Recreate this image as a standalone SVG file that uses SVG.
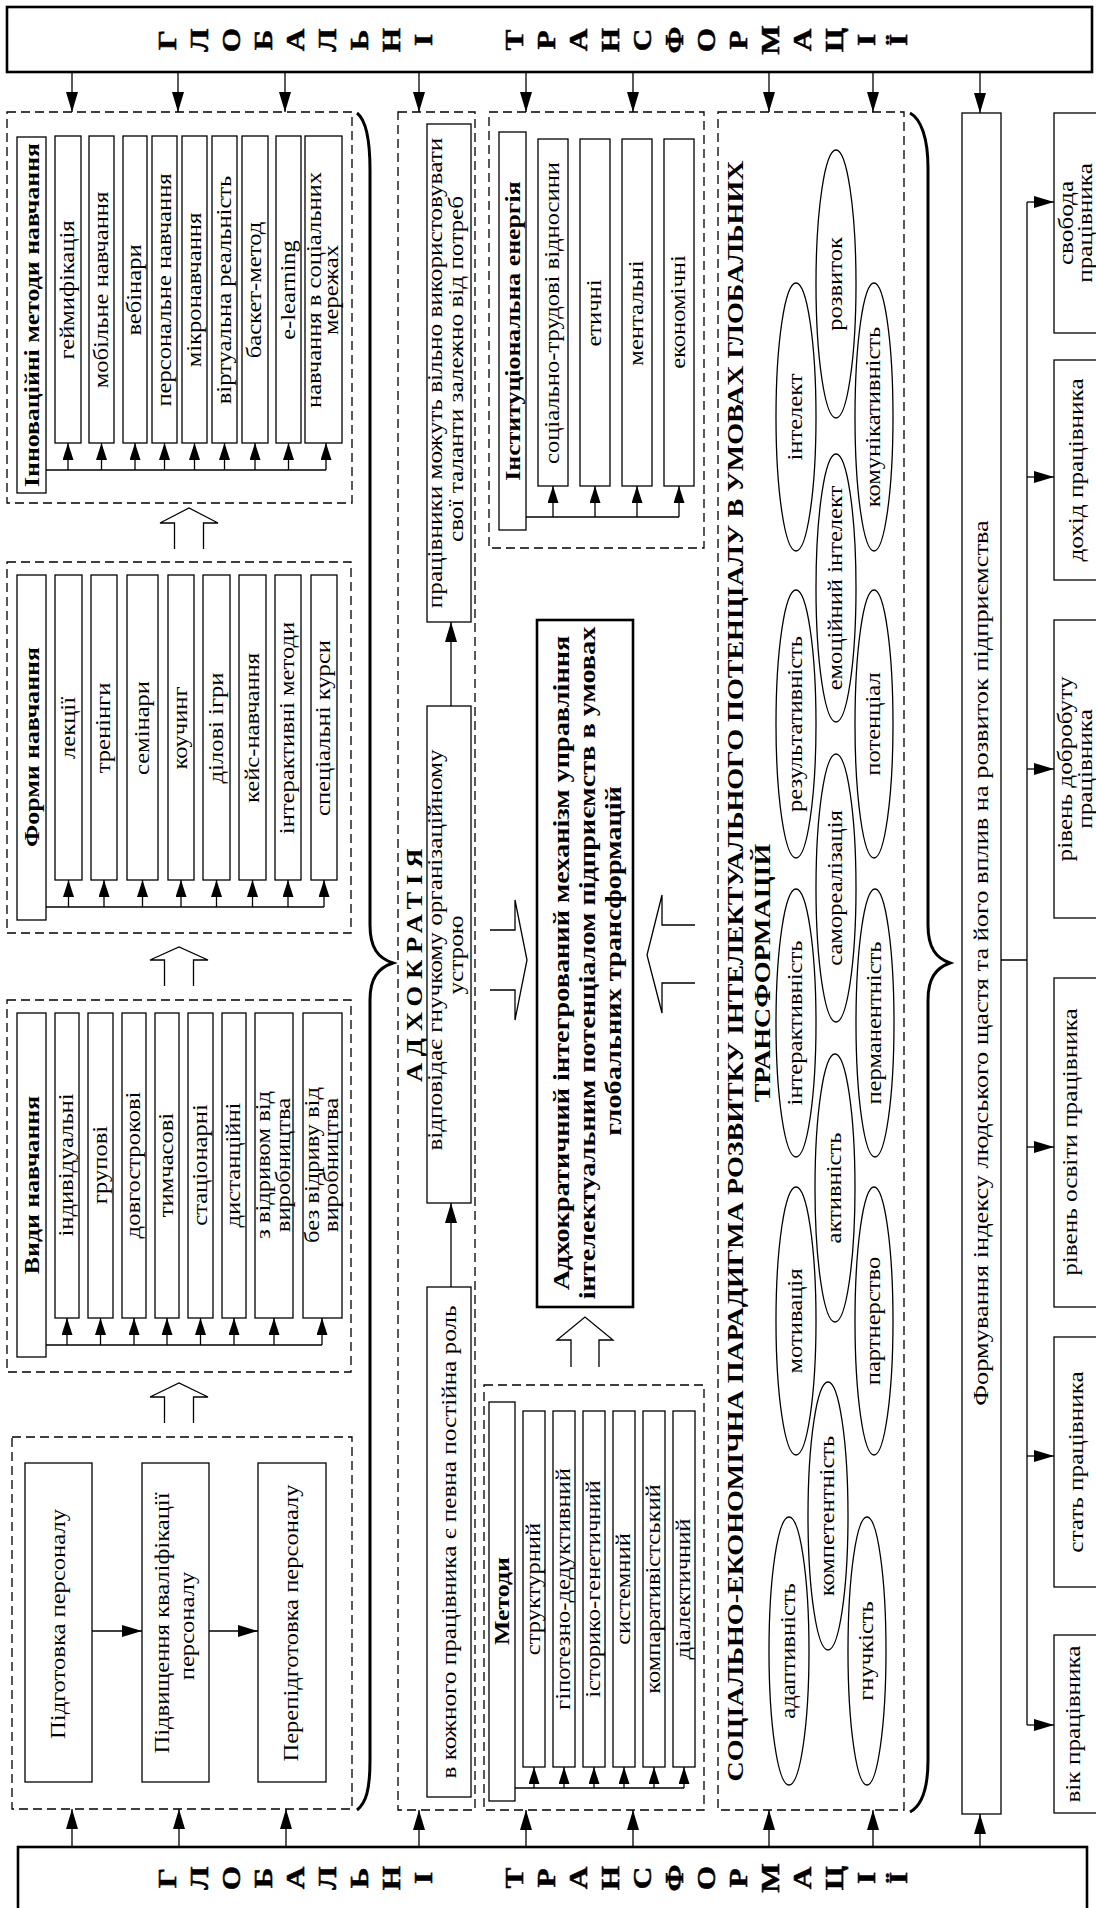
<svg xmlns="http://www.w3.org/2000/svg" width="1096" height="1908" viewBox="0 0 1096 1908">
<style>
text{font-family:"Liberation Serif","Times New Roman",serif;fill:#000;text-anchor:middle}
.r{font-size:20px}
.m{font-size:21px}
.f{font-size:22px}
.h{font-size:21px;font-weight:bold}
.c{font-size:23px;font-weight:bold}
.L{font-size:25px;font-weight:bold;stroke:#000;stroke-width:0.5}
.bx{fill:#fff;stroke:#000;stroke-width:1.3}
.bb{fill:#fff;stroke:#000;stroke-width:2.6}
.dsh{fill:none;stroke:#000;stroke-width:1.3;stroke-dasharray:9 5}
.ln{fill:none;stroke:#000;stroke-width:1.3}
.el{fill:none;stroke:#000;stroke-width:1.3}
.br{fill:none;stroke:#000;stroke-width:3}
.ha{fill:#fff;stroke:#000;stroke-width:1.3}
</style>
<defs>
<marker id="a" viewBox="0 0 20 12" refX="20" refY="6" markerWidth="20" markerHeight="12" markerUnits="userSpaceOnUse" orient="auto"><path d="M0,0L20,6L0,12z"/></marker>
<marker id="s" viewBox="0 0 17 11" refX="17" refY="5.5" markerWidth="17" markerHeight="11" markerUnits="userSpaceOnUse" orient="auto"><path d="M0,0L17,5.5L0,11z"/></marker>
</defs>
<rect width="1096" height="1908" fill="#fff"/>

<g id="top-box">
<rect class="bb" x="7" y="7" width="1085" height="65"/>
<text class="L" transform="translate(167,40) rotate(-90) scale(1.25,1)" y="8.5">Г</text>
<text class="L" transform="translate(199,40) rotate(-90) scale(1.25,1)" y="8.5">Л</text>
<text class="L" transform="translate(231,40) rotate(-90) scale(1.25,1)" y="8.5">О</text>
<text class="L" transform="translate(263,40) rotate(-90) scale(1.25,1)" y="8.5">Б</text>
<text class="L" transform="translate(295,40) rotate(-90) scale(1.25,1)" y="8.5">А</text>
<text class="L" transform="translate(327,40) rotate(-90) scale(1.25,1)" y="8.5">Л</text>
<text class="L" transform="translate(359,40) rotate(-90) scale(1.25,1)" y="8.5">Ь</text>
<text class="L" transform="translate(391,40) rotate(-90) scale(1.25,1)" y="8.5">Н</text>
<text class="L" transform="translate(423,40) rotate(-90) scale(1.25,1)" y="8.5">І</text>
<text class="L" transform="translate(514,40) rotate(-90) scale(1.25,1)" y="8.5">Т</text>
<text class="L" transform="translate(546,40) rotate(-90) scale(1.25,1)" y="8.5">Р</text>
<text class="L" transform="translate(578,40) rotate(-90) scale(1.25,1)" y="8.5">А</text>
<text class="L" transform="translate(610,40) rotate(-90) scale(1.25,1)" y="8.5">Н</text>
<text class="L" transform="translate(642,40) rotate(-90) scale(1.25,1)" y="8.5">С</text>
<text class="L" transform="translate(674,40) rotate(-90) scale(1.25,1)" y="8.5">Ф</text>
<text class="L" transform="translate(706,40) rotate(-90) scale(1.25,1)" y="8.5">О</text>
<text class="L" transform="translate(738,40) rotate(-90) scale(1.25,1)" y="8.5">Р</text>
<text class="L" transform="translate(770,40) rotate(-90) scale(1.25,1)" y="8.5">М</text>
<text class="L" transform="translate(802,40) rotate(-90) scale(1.25,1)" y="8.5">А</text>
<text class="L" transform="translate(834,40) rotate(-90) scale(1.25,1)" y="8.5">Ц</text>
<text class="L" transform="translate(866,40) rotate(-90) scale(1.25,1)" y="8.5">І</text>
<text class="L" transform="translate(898,40) rotate(-90) scale(1.25,1)" y="8.5">Ї</text>
</g>

<g id="bottom-box">
<rect class="bb" x="18" y="1847" width="1069" height="80"/>
<text class="L" transform="translate(167,1878) rotate(-90) scale(1.25,1)" y="8.5">Г</text>
<text class="L" transform="translate(199,1878) rotate(-90) scale(1.25,1)" y="8.5">Л</text>
<text class="L" transform="translate(231,1878) rotate(-90) scale(1.25,1)" y="8.5">О</text>
<text class="L" transform="translate(263,1878) rotate(-90) scale(1.25,1)" y="8.5">Б</text>
<text class="L" transform="translate(295,1878) rotate(-90) scale(1.25,1)" y="8.5">А</text>
<text class="L" transform="translate(327,1878) rotate(-90) scale(1.25,1)" y="8.5">Л</text>
<text class="L" transform="translate(359,1878) rotate(-90) scale(1.25,1)" y="8.5">Ь</text>
<text class="L" transform="translate(391,1878) rotate(-90) scale(1.25,1)" y="8.5">Н</text>
<text class="L" transform="translate(423,1878) rotate(-90) scale(1.25,1)" y="8.5">І</text>
<text class="L" transform="translate(514,1878) rotate(-90) scale(1.25,1)" y="8.5">Т</text>
<text class="L" transform="translate(546,1878) rotate(-90) scale(1.25,1)" y="8.5">Р</text>
<text class="L" transform="translate(578,1878) rotate(-90) scale(1.25,1)" y="8.5">А</text>
<text class="L" transform="translate(610,1878) rotate(-90) scale(1.25,1)" y="8.5">Н</text>
<text class="L" transform="translate(642,1878) rotate(-90) scale(1.25,1)" y="8.5">С</text>
<text class="L" transform="translate(674,1878) rotate(-90) scale(1.25,1)" y="8.5">Ф</text>
<text class="L" transform="translate(706,1878) rotate(-90) scale(1.25,1)" y="8.5">О</text>
<text class="L" transform="translate(738,1878) rotate(-90) scale(1.25,1)" y="8.5">Р</text>
<text class="L" transform="translate(770,1878) rotate(-90) scale(1.25,1)" y="8.5">М</text>
<text class="L" transform="translate(802,1878) rotate(-90) scale(1.25,1)" y="8.5">А</text>
<text class="L" transform="translate(834,1878) rotate(-90) scale(1.25,1)" y="8.5">Ц</text>
<text class="L" transform="translate(866,1878) rotate(-90) scale(1.25,1)" y="8.5">І</text>
<text class="L" transform="translate(898,1878) rotate(-90) scale(1.25,1)" y="8.5">Ї</text>
</g>

<g id="innovative-methods">
<rect class="dsh" x="7" y="112" width="345" height="391"/>
<rect class="bx" x="17" y="137" width="29" height="356"/>
<text class="h" transform="translate(38.5,315) rotate(-90) scale(1.23,1)">Інноваційні методи навчання</text>
<rect class="bx" x="55" y="136" width="26" height="307"/>
<rect class="bx" x="89" y="136" width="25" height="307"/>
<rect class="bx" x="123" y="136" width="24" height="307"/>
<rect class="bx" x="152" y="136" width="25" height="307"/>
<rect class="bx" x="182" y="136" width="25" height="307"/>
<rect class="bx" x="212" y="136" width="25" height="307"/>
<rect class="bx" x="242" y="136" width="26" height="307"/>
<rect class="bx" x="276" y="136" width="25" height="307"/>
<rect class="bx" x="305" y="136" width="37" height="307"/>
<text class="r" transform="translate(74,290) rotate(-90) scale(1.23,1)">геймифікація</text>
<text class="r" transform="translate(107.5,290) rotate(-90) scale(1.23,1)">мобільне навчання</text>
<text class="r" transform="translate(141,290) rotate(-90) scale(1.23,1)">вебінари</text>
<text class="r" transform="translate(170.5,290) rotate(-90) scale(1.23,1)">персональне навчання</text>
<text class="r" transform="translate(200.5,290) rotate(-90) scale(1.23,1)">мікронавчання</text>
<text class="r" transform="translate(230.5,290) rotate(-90) scale(1.23,1)">віртуальна реальність</text>
<text class="r" transform="translate(261,290) rotate(-90) scale(1.23,1)">баскет-метод</text>
<text class="r" transform="translate(294.5,290) rotate(-90) scale(1.23,1)">e-learning</text>
<text class="r" transform="translate(321,290) rotate(-90) scale(1.23,1)">навчання в соціальних</text>
<text class="r" transform="translate(338,290) rotate(-90) scale(1.23,1)">мережах</text>
</g>

<g id="forms">
<rect class="dsh" x="7" y="562" width="344" height="371"/>
<rect class="bx" x="17" y="575" width="29" height="345"/>
<text class="h" transform="translate(38.5,747) rotate(-90) scale(1.23,1)">Форми навчання</text>
<rect class="bx" x="55" y="575" width="27" height="305"/>
<rect class="bx" x="91" y="575" width="26" height="305"/>
<rect class="bx" x="127" y="575" width="31" height="305"/>
<rect class="bx" x="168" y="575" width="26" height="305"/>
<rect class="bx" x="203" y="575" width="27" height="305"/>
<rect class="bx" x="239" y="575" width="27" height="305"/>
<rect class="bx" x="275" y="575" width="26" height="305"/>
<rect class="bx" x="311" y="575" width="26" height="305"/>
<text class="r" transform="translate(74.5,728) rotate(-90) scale(1.23,1)">лекції</text>
<text class="r" transform="translate(110,728) rotate(-90) scale(1.23,1)">тренінги</text>
<text class="r" transform="translate(148.5,728) rotate(-90) scale(1.23,1)">семінари</text>
<text class="r" transform="translate(187,728) rotate(-90) scale(1.23,1)">коучинг</text>
<text class="r" transform="translate(222.5,728) rotate(-90) scale(1.23,1)">ділові ігри</text>
<text class="r" transform="translate(258.5,728) rotate(-90) scale(1.23,1)">кейс-навчання</text>
<text class="r" transform="translate(294,728) rotate(-90) scale(1.23,1)">інтерактивні методи</text>
<text class="r" transform="translate(330,728) rotate(-90) scale(1.23,1)">спеціальні курси</text>
</g>

<g id="types">
<rect class="dsh" x="7" y="1000" width="344" height="372"/>
<rect class="bx" x="17" y="1013" width="29" height="344"/>
<text class="h" transform="translate(38.5,1185) rotate(-90) scale(1.23,1)">Види навчання</text>
<rect class="bx" x="55" y="1013" width="24" height="305"/>
<rect class="bx" x="88" y="1013" width="25" height="305"/>
<rect class="bx" x="122" y="1013" width="24" height="305"/>
<rect class="bx" x="155" y="1013" width="24" height="305"/>
<rect class="bx" x="188" y="1013" width="25" height="305"/>
<rect class="bx" x="222" y="1013" width="24" height="305"/>
<rect class="bx" x="255" y="1013" width="38" height="305"/>
<rect class="bx" x="303" y="1013" width="39" height="305"/>
<text class="r" transform="translate(73,1165) rotate(-90) scale(1.23,1)">індивідуальні</text>
<text class="r" transform="translate(106.5,1165) rotate(-90) scale(1.23,1)">групові</text>
<text class="r" transform="translate(140,1165) rotate(-90) scale(1.23,1)">довгострокові</text>
<text class="r" transform="translate(173,1165) rotate(-90) scale(1.23,1)">тимчасові</text>
<text class="r" transform="translate(206.5,1165) rotate(-90) scale(1.23,1)">стаціонарні</text>
<text class="r" transform="translate(240,1165) rotate(-90) scale(1.23,1)">дистанційні</text>
<text class="r" transform="translate(270,1165) rotate(-90) scale(1.23,1)">з відривом від</text>
<text class="r" transform="translate(290,1165) rotate(-90) scale(1.23,1)">виробництва</text>
<text class="r" transform="translate(319,1165) rotate(-90) scale(1.23,1)">без відриву від</text>
<text class="r" transform="translate(338,1165) rotate(-90) scale(1.23,1)">виробництва</text>
</g>

<g id="training">
<rect class="dsh" x="12" y="1437" width="340" height="372"/>
<rect class="bx" x="25" y="1463" width="67" height="319"/>
<rect class="bx" x="142" y="1463" width="67" height="319"/>
<rect class="bx" x="258" y="1463" width="68" height="319"/>
<text class="r" transform="translate(65,1624) rotate(-90) scale(1.23,1)">Підготовка персоналу</text>
<text class="r" transform="translate(169,1623) rotate(-90) scale(1.23,1)">Підвищення кваліфікації</text>
<text class="r" transform="translate(194,1626) rotate(-90) scale(1.23,1)">персоналу</text>
<text class="r" transform="translate(298,1623) rotate(-90) scale(1.23,1)">Перепідготовка персоналу</text>
</g>

<g id="adhocracy">
<rect class="dsh" x="398" y="112" width="77" height="1698"/>
<text class="h" style="font-size:23px;letter-spacing:6px" transform="translate(422,962) rotate(-90) scale(1.15,1)">АДХОКРАТІЯ</text>
<rect class="bx" x="427" y="124" width="44" height="498"/>
<text class="m" transform="translate(442,373) rotate(-90) scale(1.2,1)">працівники можуть вільно використовувати</text>
<text class="m" transform="translate(463,369) rotate(-90) scale(1.2,1)">свої таланти залежно від потреб</text>
<rect class="bx" x="427" y="706" width="44" height="497"/>
<text class="m" transform="translate(442,950) rotate(-90) scale(1.2,1)">відповідає гнучкому організаційному</text>
<text class="m" transform="translate(463,955) rotate(-90) scale(1.2,1)">устрою</text>
<rect class="bx" x="427" y="1287" width="44" height="510"/>
<text class="m" transform="translate(456,1542) rotate(-90) scale(1.2,1)">в кожного працівника є певна постійна роль</text>
</g>

<g id="institutional">
<rect class="dsh" x="489" y="112" width="215" height="436"/>
<rect class="bx" x="499" y="132" width="27" height="398"/>
<text class="h" transform="translate(520,331) rotate(-90) scale(1.23,1)">Інституціональна енергія</text>
<rect class="bx" x="538" y="139" width="30" height="347"/>
<rect class="bx" x="580" y="139" width="30" height="347"/>
<rect class="bx" x="622" y="139" width="30" height="347"/>
<rect class="bx" x="664" y="139" width="30" height="347"/>
<text class="r" transform="translate(559,313) rotate(-90) scale(1.23,1)">соціально-трудові відносини</text>
<text class="r" transform="translate(601,313) rotate(-90) scale(1.23,1)">етичні</text>
<text class="r" transform="translate(643,313) rotate(-90) scale(1.23,1)">ментальні</text>
<text class="r" transform="translate(685,312) rotate(-90) scale(1.23,1)">економічні</text>
</g>

<g id="mechanism">
<rect class="bb" x="537" y="620" width="96" height="687"/>
<text class="c" transform="translate(569,963) rotate(-90) scale(1.23,1)">Адхократичний інтегрований механізм управління</text>
<text class="c" transform="translate(595,963) rotate(-90) scale(1.23,1)">інтелектуальним потенціалом підприємств в умовах</text>
<text class="c" transform="translate(621,961) rotate(-90) scale(1.23,1)">глобальних трансформацій</text>
</g>

<g id="methods">
<rect class="dsh" x="484" y="1385" width="220" height="425"/>
<rect class="bx" x="489" y="1402" width="26" height="399"/>
<text class="h" transform="translate(509,1601) rotate(-90) scale(1.23,1)">Методи</text>
<rect class="bx" x="523" y="1411" width="22" height="356"/>
<rect class="bx" x="553" y="1411" width="22" height="356"/>
<rect class="bx" x="583" y="1411" width="22" height="356"/>
<rect class="bx" x="613" y="1411" width="22" height="356"/>
<rect class="bx" x="643" y="1411" width="22" height="356"/>
<rect class="bx" x="673" y="1411" width="22" height="356"/>
<text class="r" transform="translate(540,1589) rotate(-90) scale(1.23,1)">структурний</text>
<text class="r" transform="translate(570,1589) rotate(-90) scale(1.23,1)">гіпотезно-дедуктивний</text>
<text class="r" transform="translate(600,1589) rotate(-90) scale(1.23,1)">історико-генетичний</text>
<text class="r" transform="translate(630,1589) rotate(-90) scale(1.23,1)">системний</text>
<text class="r" transform="translate(660,1589) rotate(-90) scale(1.23,1)">компаративістський</text>
<text class="r" transform="translate(690,1589) rotate(-90) scale(1.23,1)">діалектичний</text>
</g>

<g id="paradigm">
<rect class="dsh" x="718" y="112" width="186" height="1698"/>
<text class="c" transform="translate(743,971) rotate(-90) scale(1.22,1)">СОЦІАЛЬНО-ЕКОНОМІЧНА ПАРАДИГМА РОЗВИТКУ ІНТЕЛЕКТУАЛЬНОГО ПОТЕНЦІАЛУ В УМОВАХ ГЛОБАЛЬНИХ</text>
<text class="c" transform="translate(770,973) rotate(-90) scale(1.22,1)">ТРАНСФОРМАЦІЙ</text>
<ellipse class="el" cx="796" cy="417" rx="20" ry="134"/>
<ellipse class="el" cx="796" cy="724" rx="20" ry="134"/>
<ellipse class="el" cx="796" cy="1023" rx="20" ry="134"/>
<ellipse class="el" cx="796" cy="1321" rx="20" ry="134"/>
<ellipse class="el" cx="789" cy="1651" rx="20" ry="134"/>
<ellipse class="el" cx="836" cy="284" rx="20" ry="134"/>
<ellipse class="el" cx="836" cy="588" rx="20" ry="134"/>
<ellipse class="el" cx="836" cy="888" rx="20" ry="134"/>
<ellipse class="el" cx="835" cy="1188" rx="20" ry="134"/>
<ellipse class="el" cx="828" cy="1516" rx="20" ry="134"/>
<ellipse class="el" cx="874" cy="417" rx="19" ry="134"/>
<ellipse class="el" cx="874" cy="724" rx="19" ry="134"/>
<ellipse class="el" cx="875" cy="1023" rx="19" ry="134"/>
<ellipse class="el" cx="874" cy="1321" rx="19" ry="134"/>
<ellipse class="el" cx="867" cy="1651" rx="19" ry="134"/>
<text class="r" transform="translate(802,417) rotate(-90) scale(1.23,1)">інтелект</text>
<text class="r" transform="translate(802,724) rotate(-90) scale(1.23,1)">результативність</text>
<text class="r" transform="translate(802,1023) rotate(-90) scale(1.23,1)">інтерактивність</text>
<text class="r" transform="translate(802,1321) rotate(-90) scale(1.23,1)">мотивація</text>
<text class="r" transform="translate(795,1651) rotate(-90) scale(1.23,1)">адаптивність</text>
<text class="r" transform="translate(842,284) rotate(-90) scale(1.23,1)">розвиток</text>
<text class="r" transform="translate(842,588) rotate(-90) scale(1.23,1)">емоційний інтелект</text>
<text class="r" transform="translate(842,888) rotate(-90) scale(1.23,1)">самореалізація</text>
<text class="r" transform="translate(841,1188) rotate(-90) scale(1.23,1)">активність</text>
<text class="r" transform="translate(834,1516) rotate(-90) scale(1.23,1)">компетентність</text>
<text class="r" transform="translate(880,417) rotate(-90) scale(1.23,1)">комунікативність</text>
<text class="r" transform="translate(880,724) rotate(-90) scale(1.23,1)">потенціал</text>
<text class="r" transform="translate(881,1023) rotate(-90) scale(1.23,1)">перманентність</text>
<text class="r" transform="translate(880,1321) rotate(-90) scale(1.23,1)">партнерство</text>
<text class="r" transform="translate(873,1651) rotate(-90) scale(1.23,1)">гнучкість</text>
</g>

<g id="happiness-index">
<rect class="bx" x="962" y="113" width="39" height="1701"/>
<text class="f" transform="translate(988,963) rotate(-90) scale(1.2,1)">Формування індексу людського щастя та його вплив на розвиток підприємства</text>
</g>

<g id="factor-freedom">
<rect class="bx" x="1054" y="113" width="50" height="220"/>
<text class="m" transform="translate(1073,223) rotate(-90) scale(1.2,1)">свобода</text>
<text class="m" transform="translate(1092,223) rotate(-90) scale(1.2,1)">працівника</text>
</g>
<g id="factor-income">
<rect class="bx" x="1054" y="360" width="50" height="220"/>
<text class="m" transform="translate(1083,470) rotate(-90) scale(1.2,1)">дохід працівника</text>
</g>
<g id="factor-welfare">
<rect class="bx" x="1054" y="620" width="50" height="298"/>
<text class="m" transform="translate(1072,769) rotate(-90) scale(1.2,1)">рівень добробуту</text>
<text class="m" transform="translate(1092,769) rotate(-90) scale(1.2,1)">працівника</text>
</g>
<g id="factor-education">
<rect class="bx" x="1054" y="978" width="50" height="329"/>
<text class="m" transform="translate(1077,1142) rotate(-90) scale(1.2,1)">рівень освіти працівника</text>
</g>
<g id="factor-gender">
<rect class="bx" x="1054" y="1337" width="50" height="250"/>
<text class="m" transform="translate(1083,1462) rotate(-90) scale(1.2,1)">стать працівника</text>
</g>
<g id="factor-age">
<rect class="bx" x="1054" y="1635" width="50" height="178"/>
<text class="m" transform="translate(1080,1724) rotate(-90) scale(1.2,1)">вік працівника</text>
</g>

<g id="connectors">
<path class="br" d="M357,113 C366,120 370,140 370,170 L370,925 C370,948 378,958 393,963 C378,968 370,978 370,1000 L370,1760 C370,1790 366,1803 357,1810"/>
<path class="br" d="M910,113 C921,119 928,138 928,168 L928,925 C928,948 936,958 950,963 C936,968 928,978 928,1000 L928,1760 C928,1792 921,1806 910,1812"/>
<g class="ln" marker-end="url(#a)">
<path d="M72,72V112"/><path d="M178,72V112"/><path d="M285,72V112"/>
<path d="M419,72V112"/><path d="M526,72V112"/><path d="M633,72V112"/>
<path d="M769,72V112"/><path d="M873,72V112"/><path d="M980,72V113"/>
<path d="M72,1847V1809"/><path d="M179,1847V1809"/><path d="M286,1847V1809"/>
<path d="M419,1847V1810"/><path d="M526,1847V1810"/><path d="M633,1847V1810"/>
<path d="M769,1847V1810"/><path d="M873,1847V1810"/><path d="M980,1847V1814"/>
<path d="M451,1287V1203"/><path d="M451,706V622"/>
<path d="M92,1631H142"/><path d="M209,1631H258"/>
<path d="M1027,202H1054"/><path d="M1027,477H1054"/><path d="M1027,769H1054"/>
<path d="M1027,1147H1054"/><path d="M1027,1456H1054"/><path d="M1027,1725H1054"/>
</g>
<path class="ln" d="M1001,960H1027M1027,202V1725"/>
<path class="ln" d="M46,470H326"/>
<g class="ln" marker-end="url(#s)">
<path d="M68,470V443"/><path d="M101.5,470V443"/><path d="M135,470V443"/><path d="M164.5,470V443"/><path d="M194.5,470V443"/><path d="M224.5,470V443"/><path d="M255,470V443"/><path d="M288.5,470V443"/><path d="M326,470V443"/>
</g>
<path class="ln" d="M46,907H324"/>
<g class="ln" marker-end="url(#s)">
<path d="M68.5,907V880"/><path d="M104,907V880"/><path d="M142.5,907V880"/><path d="M181,907V880"/><path d="M216.5,907V880"/><path d="M252.5,907V880"/><path d="M288,907V880"/><path d="M324,907V880"/>
</g>
<path class="ln" d="M46,1345H322"/>
<g class="ln" marker-end="url(#s)">
<path d="M67,1345V1318"/><path d="M100.5,1345V1318"/><path d="M134,1345V1318"/><path d="M167,1345V1318"/><path d="M200.5,1345V1318"/><path d="M234,1345V1318"/><path d="M274,1345V1318"/><path d="M322,1345V1318"/>
</g>
<path class="ln" d="M526,517H679"/>
<g class="ln" marker-end="url(#s)">
<path d="M553,517V486"/><path d="M595,517V486"/><path d="M637,517V486"/><path d="M679,517V486"/>
</g>
<path class="ln" d="M515,1788H684"/>
<g class="ln" marker-end="url(#s)">
<path d="M534,1788V1767"/><path d="M564,1788V1767"/><path d="M594,1788V1767"/><path d="M624,1788V1767"/><path d="M654,1788V1767"/><path d="M684,1788V1767"/>
</g>
<polyline class="ha" points="174.5,549 174.5,523 160,523 189,508 218,523 203.5,523 203.5,549"/>
<polyline class="ha" points="164.5,986 164.5,960 150,960 179,947 208,960 193.5,960 193.5,986"/>
<polyline class="ha" points="164.5,1423 164.5,1397 150,1397 179,1383 208,1397 193.5,1397 193.5,1423"/>
<polyline class="ha" points="571,1367 571,1340 557,1340 585,1317 613,1340 599,1340 599,1367"/>
<polyline class="ha" points="490,930 515,930 515,900 527,960 515,1020 515,990 490,990"/>
<polyline class="ha" points="695,925 662,925 662,895 647,955 662,1013 662,983 695,983"/>
</g>
</svg>
